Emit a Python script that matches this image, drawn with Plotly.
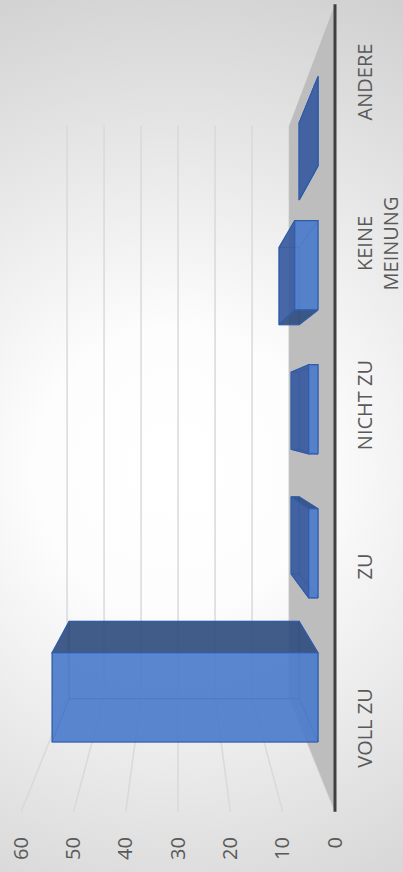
import base64
import plotly.graph_objects as go

# ---- data -------------------------------------------------------------
categories = ["VOLL ZU", "ZU", "NICHT ZU", "KEINE<br>MEINUNG", "ANDERE"]
values = [57, 2, 2, 5, 0]
value_ticks = [0, 10, 20, 30, 40, 50, 60]

# ---- page / projection geometry ---------------------------------------
W, H = 403, 872
MARGIN_R, MARGIN_B = 58, 44
ZERO_X = 335.0          # pixel column of value 0 on the front edge
PX_PER_VALUE = 5.23
CAT0_Y = 731.0          # pixel row of the first category on the front edge
PX_PER_CAT = 161.5
VAN_X, VAN_Y = 178.0, 420.0   # vanishing point of the depth direction (px)
SHRINK = 0.2925               # how much the back wall shrinks toward it

BAR_HALF = 0.31          # half bar width, in categories
D_FRONT, D_BACK = 0.37, 0.78  # bar depth range (0 = front edge, 1 = back wall)

u_van = (ZERO_X - VAN_X) / PX_PER_VALUE
c_van = (CAT0_Y - VAN_Y) / PX_PER_CAT
c_lo, c_hi = -0.5, len(categories) - 0.5


def project(v, c, d):
    """3D point (value, category, depth) -> front-plane axis units."""
    k = 1 - SHRINK * d
    return u_van + (v - u_van) * k, c_van + (c - c_van) * k


def poly(points):
    xs, ys = [], []
    for p in points:
        x, y = project(*p)
        xs.append(x)
        ys.append(y)
    xs.append(xs[0])
    ys.append(ys[0])
    return xs, ys


fig = go.Figure()

# background: soft radial light
svg = (
    f"<svg xmlns='http://www.w3.org/2000/svg' width='{W}' height='{H}'>"
    "<defs><radialGradient id='g' cx='175' cy='470' r='560' gradientUnits='userSpaceOnUse'>"
    "<stop offset='0' stop-color='#ffffff'/><stop offset='0.25' stop-color='#fdfdfd'/>"
    "<stop offset='1' stop-color='#cbcbcb'/></radialGradient></defs>"
    f"<rect width='{W}' height='{H}' fill='url(#g)'/></svg>"
)
bg_src = "data:image/svg+xml;base64," + base64.b64encode(svg.encode()).decode()
pw, ph = W - MARGIN_R, H - MARGIN_B

# gridlines on back wall and side wall
gx, gy = [], []
for v in value_ticks:
    for a, b in (((v, c_lo, 1), (v, c_hi, 1)), ((v, c_lo, 1), (v, c_lo, 0))):
        x0, y0 = project(*a)
        x1, y1 = project(*b)
        gx += [x0, x1, None]
        gy += [y0, y1, None]
fig.add_trace(go.Scatter(x=gx, y=gy, mode="lines", line=dict(color="#d9d9d9", width=1.5),
                         hoverinfo="skip", showlegend=False))

# floor
fx, fy = poly([(0, c_lo, 0), (0, c_hi, 0), (0, c_hi, 1), (0, c_lo, 1)])
fig.add_trace(go.Scatter(x=fx, y=fy, mode="lines", fill="toself", fillcolor="#bdbdbd",
                         line=dict(width=0, color="#bdbdbd"), hoverinfo="skip", showlegend=False))

# bars as boxes
face_color = {
    "front": "rgba(76,124,203,0.92)",
    "top": "rgba(56,90,160,0.92)",
    "side": "rgba(50,78,128,0.92)",
}
hidden_x, hidden_y = [], []
visible = {k: ([], []) for k in face_color}
for i, val in enumerate(values):
    a, b = i - BAR_HALF, i + BAR_HALF
    faces = [
        ("front", True, [(0, a, D_FRONT), (val, a, D_FRONT), (val, b, D_FRONT), (0, b, D_FRONT)]),
        ("front", False, [(0, a, D_BACK), (val, a, D_BACK), (val, b, D_BACK), (0, b, D_BACK)]),
        ("top", val < u_van, [(val, a, D_FRONT), (val, b, D_FRONT), (val, b, D_BACK), (val, a, D_BACK)]),
        ("top", u_van < 0, [(0, a, D_FRONT), (0, b, D_FRONT), (0, b, D_BACK), (0, a, D_BACK)]),
        ("side", c_van > b, [(0, b, D_FRONT), (val, b, D_FRONT), (val, b, D_BACK), (0, b, D_BACK)]),
        ("side", c_van < a, [(0, a, D_FRONT), (val, a, D_FRONT), (val, a, D_BACK), (0, a, D_BACK)]),
    ]
    for kind, vis, pts in faces:
        xs, ys = poly(pts)
        if vis:
            visible[kind][0].extend(xs + [None])
            visible[kind][1].extend(ys + [None])
        else:
            hidden_x.extend(xs + [None])
            hidden_y.extend(ys + [None])

fig.add_trace(go.Scatter(x=hidden_x, y=hidden_y, mode="lines",
                         line=dict(color="rgba(47,85,160,0.55)", width=1),
                         hoverinfo="skip", showlegend=False))
for kind in ("side", "top", "front"):
    xs, ys = visible[kind]
    fig.add_trace(go.Scatter(x=xs, y=ys, mode="lines", fill="toself",
                             fillcolor=face_color[kind],
                             line=dict(color="#2f5dab", width=1.2),
                             hoverinfo="skip", showlegend=False))

# category axis line along the front edge of the floor
ax0 = project(0, c_lo, 0)
ax1 = project(0, c_hi, 0)
fig.add_trace(go.Scatter(x=[ax0[0], ax1[0]], y=[ax0[1], ax1[1]], mode="lines",
                         line=dict(color="#404040", width=3),
                         hoverinfo="skip", showlegend=False))

font = dict(family="Open Sans, sans-serif", size=20, color="#595959")
fig.update_layout(
    width=W, height=H, autosize=False,
    margin=dict(l=0, r=MARGIN_R, t=0, b=MARGIN_B, pad=0),
    paper_bgcolor="white", plot_bgcolor="rgba(0,0,0,0)",
    showlegend=False,
    images=[dict(source=bg_src, xref="paper", yref="paper", x=0, y=1,
                 sizex=W / pw, sizey=H / ph, xanchor="left", yanchor="top",
                 sizing="stretch", layer="below")],
    xaxis=dict(range=[ZERO_X / PX_PER_VALUE, (ZERO_X - pw) / PX_PER_VALUE],
               tickvals=value_ticks, ticktext=[str(t) for t in value_ticks],
               tickangle=-90, tickfont=font, showgrid=False, zeroline=False,
               showline=False, ticks="", ticklabelstandoff=4, fixedrange=True),
    yaxis=dict(range=[(CAT0_Y - ph) / PX_PER_CAT, CAT0_Y / PX_PER_CAT],
               tickvals=list(range(len(categories))), ticktext=categories,
               side="right", tickangle=-90, tickfont=font, showgrid=False,
               zeroline=False, showline=False, ticks="", ticklabelstandoff=6,
               fixedrange=True),
)

fig.write_html("out.html")
